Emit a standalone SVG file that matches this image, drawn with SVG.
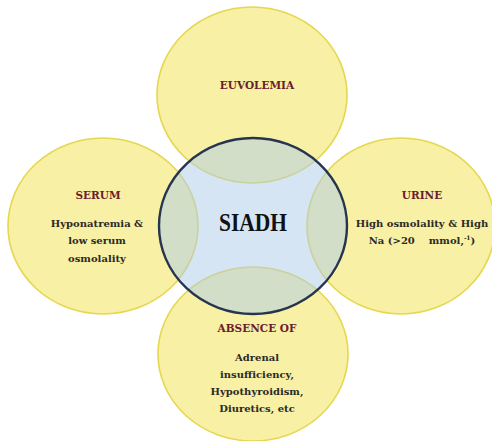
<svg xmlns="http://www.w3.org/2000/svg" width="492" height="441" viewBox="0 0 492 441">
<style>
.petal{fill:#f8f0a4;stroke:#e5d74f;stroke-width:1.6}
.hub{fill:#aecde8;fill-opacity:0.52;stroke:#26344f;stroke-width:2.4}
.t{font-family:"DejaVu Serif","Liberation Serif",serif;font-weight:bold;text-anchor:middle}
.h{font-size:10.5px;fill:#6a1d2c}
.b{font-size:10px;fill:#2b2a24}
.c{font-family:"Liberation Serif","DejaVu Serif",serif;font-size:25px;fill:#111111}
</style>
<rect width="492" height="441" fill="#ffffff"/>
<g id="euvolemia">
<ellipse class="petal" cx="252" cy="95" rx="95" ry="88"/>
<text class="t h" x="257" y="89">EUVOLEMIA</text>
</g>
<g id="serum">
<ellipse class="petal" cx="103" cy="226" rx="95" ry="88"/>
<text class="t h" x="98" y="199">SERUM</text>
<text class="t b" x="97" y="227">Hyponatremia &amp;</text>
<text class="t b" x="97" y="244">low serum</text>
<text class="t b" x="97" y="262">osmolality</text>
</g>
<g id="urine">
<ellipse class="petal" cx="401" cy="226" rx="94" ry="88"/>
<text class="t h" x="422" y="199">URINE</text>
<text class="t b" x="422" y="227">High osmolality &amp; High</text>
<text class="t b" x="422" y="244" xml:space="preserve">Na (&gt;20    mmol,<tspan font-size="6" dy="-4">-1</tspan><tspan dy="4">)</tspan></text>
</g>
<g id="absence">
<ellipse class="petal" cx="253" cy="354" rx="95" ry="87"/>
<text class="t h" x="257" y="332">ABSENCE OF</text>
<text class="t b" x="257" y="361">Adrenal</text>
<text class="t b" x="257" y="378">insufficiency,</text>
<text class="t b" x="257" y="395">Hypothyroidism,</text>
<text class="t b" x="257" y="412">Diuretics, etc</text>
</g>
<g id="siadh">
<ellipse class="hub" cx="253" cy="226" rx="94" ry="88"/>
<text class="t c" x="253" y="231" textLength="68" lengthAdjust="spacingAndGlyphs">SIADH</text>
</g>
<g id="connectors"></g>
</svg>
